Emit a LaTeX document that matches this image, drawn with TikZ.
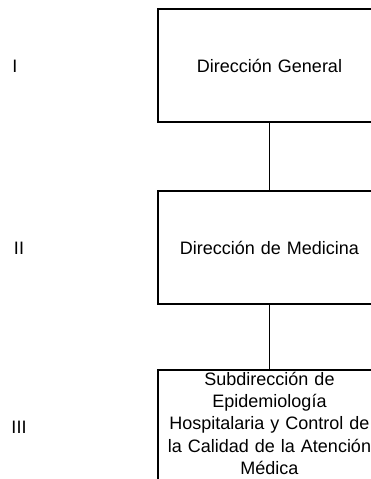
\documentclass[tikz,border=0pt]{standalone}
\usepackage{fontspec}
\setmainfont{Liberation Sans}
\usepackage{tikz}
\usetikzlibrary{positioning}

\tikzset{
  unit/.style={draw,line width=1.2pt,minimum width=223pt,minimum height=113pt,
    text width=219pt,align=center,inner sep=0pt,font=\fontsize{18}{22.3}\selectfont},
  level/.style={font=\fontsize{18}{22.3}\selectfont},
  link/.style={line width=1.2pt}
}

\begin{document}
\begin{tikzpicture}[x=1pt,y=1pt]
% page frame, the boxes run past the right edge
\clip (0,0) rectangle (371,-479);

% Units
\node[unit] (general) at (269.5,-65.5) {Dirección General};
\node[unit] (medicina) at (269.5,-247.5) {Dirección de Medicina};
\node[unit,text depth=96pt] (epidem) at (269.5,-426.5) {Subdirección de\\Epidemiología\\Hospitalaria y Control de\\la Calidad de la Atención\\Médica};

% Levels
\node[level] (lvI) at (15,-66) {I};
\node[level] (lvII) at (19,-248) {II};
\node[level] (lvIII) at (19,-427) {III};

% Lines of authority
\draw[link] (general) -- (medicina);
\draw[link] (medicina) -- (epidem);
\end{tikzpicture}
\end{document}
